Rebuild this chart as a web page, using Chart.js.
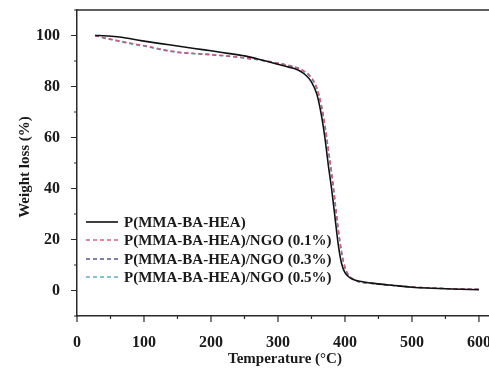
<!DOCTYPE html>
<html>
<head>
<meta charset="utf-8">
<script src="https://cdn.jsdelivr.net/npm/chart.js"></script>
<style>
  html, body { margin: 0; padding: 0; background: #fff; }
  #wrap { width: 489px; height: 369px; }
</style>
</head>
<body>
<div id="wrap"><canvas id="tga" width="489" height="369"></canvas></div>
<script>
// temperatures (°C) sampled along the curves
const temps = [27, 40, 60, 80, 100, 125, 150, 175, 200, 225, 250, 270, 290, 310, 330, 340, 350, 358, 365, 370, 375, 380, 385, 390, 395, 400, 405, 410, 420, 440, 460, 480, 500, 530, 560, 600];

// weight (%) per sample
const pure   = [100, 99.9, 99.5, 98.7, 97.8, 96.8, 95.9, 94.9, 94.0, 93.0, 92.0, 90.8, 89.4, 88.0, 86.5, 84.8, 81.8, 77.0, 68.5, 60.0, 49.5, 40.0, 29.0, 18.0, 10.5, 7.0, 5.5, 4.6, 3.7, 2.9, 2.3, 1.8, 1.3, 0.9, 0.6, 0.3];
const ngo01  = [100, 99.2, 98.1, 97.0, 96.1, 94.7, 93.6, 93.0, 92.6, 92.0, 91.3, 90.6, 89.7, 88.7, 87.3, 85.9, 83.5, 79.6, 72.6, 65.2, 56.0, 46.6, 35.6, 24.2, 15.2, 9.2, 6.3, 4.9, 3.6, 2.8, 2.3, 1.8, 1.4, 1.0, 0.7, 0.5];
const ngo03  = [100, 99.1, 98.0, 96.9, 96.0, 94.6, 93.5, 92.9, 92.5, 91.9, 91.2, 90.5, 89.6, 88.6, 87.2, 85.8, 83.4, 79.4, 72.3, 65.0, 55.7, 46.2, 35.3, 24.0, 15.0, 9.0, 6.2, 4.8, 3.5, 2.8, 2.3, 1.8, 1.4, 1.0, 0.7, 0.5];
const ngo05  = [100, 99.0, 97.8, 96.7, 95.8, 94.4, 93.3, 92.8, 92.4, 91.8, 91.1, 90.4, 89.5, 88.5, 87.1, 85.6, 83.1, 79.0, 71.8, 64.4, 55.2, 45.7, 34.8, 23.5, 14.7, 8.8, 6.0, 4.7, 3.4, 2.7, 2.2, 1.7, 1.3, 0.9, 0.6, 0.4];

const seriesNames = ['P(MMA-BA-HEA)', 'P(MMA-BA-HEA)/NGO (0.1%)', 'P(MMA-BA-HEA)/NGO (0.3%)', 'P(MMA-BA-HEA)/NGO (0.5%)'];
const xMajor = [0, 100, 200, 300, 400, 500, 600];
const xMinor = [50, 150, 250, 350, 450, 550];
const yMajor = [0, 20, 40, 60, 80, 100];
const yMinor = [-10, 10, 30, 50, 70, 90, 110];

const FONT = '"Liberation Serif", "Times New Roman", serif';
const AXIS = '#2a2a2a';

function pts(vals) {
    return temps.map((t, i) => ({ x: t, y: vals[i] }));
}

const styles = [
    { color: '#111111', dash: [], width: 1.6 },
    { color: '#e0607a', dash: [4, 3], width: 1.3 },
    { color: '#55559a', dash: [4, 3], width: 1.3 },
    { color: '#5fb0c4', dash: [4, 3], width: 1.3 }
];

const allSeries = [pure, ngo01, ngo03, ngo05];

// frame, minor ticks, axis titles and the inset legend
const decor = {
    id: 'decor',
    afterDraw(chart) {
        const ctx = chart.ctx;
        const a = chart.chartArea;
        const xs = chart.scales.x, ys = chart.scales.y;
        ctx.save();
        ctx.strokeStyle = AXIS;
        ctx.lineWidth = 1.5;
        // top border
        ctx.beginPath();
        ctx.moveTo(a.left, a.top);
        ctx.lineTo(a.right, a.top);
        ctx.stroke();
        // tick marks (outward)
        ctx.lineWidth = 1.2;
        ctx.beginPath();
        xMajor.forEach(v => { const p = xs.getPixelForValue(v); ctx.moveTo(p, a.bottom); ctx.lineTo(p, a.bottom + 6); });
        xMinor.forEach(v => { const p = xs.getPixelForValue(v); ctx.moveTo(p, a.bottom); ctx.lineTo(p, a.bottom + 3); });
        yMajor.forEach(v => { const p = ys.getPixelForValue(v); ctx.moveTo(a.left, p); ctx.lineTo(a.left - 6, p); });
        yMinor.forEach(v => { const p = ys.getPixelForValue(v); ctx.moveTo(a.left, p); ctx.lineTo(a.left - 3, p); });
        ctx.stroke();

        // axis titles
        ctx.fillStyle = '#1a1a1a';
        ctx.font = 'bold 15px ' + FONT;
        ctx.textAlign = 'center';
        ctx.textBaseline = 'middle';
        ctx.fillText('Temperature (\u00B0C)', 285, 359);
        ctx.save();
        ctx.translate(25, 167);
        ctx.rotate(-Math.PI / 2);
        ctx.fillText('Weight loss (%)', 0, 0);
        ctx.restore();

        // legend
        const rows = [222, 240, 259, 277];
        ctx.textAlign = 'left';
        seriesNames.forEach((name, i) => {
            const s = styles[i];
            ctx.strokeStyle = s.color;
            ctx.lineWidth = s.width;
            ctx.setLineDash(s.dash);
            ctx.beginPath();
            ctx.moveTo(86, rows[i]);
            ctx.lineTo(118, rows[i]);
            ctx.stroke();
            ctx.setLineDash([]);
            ctx.fillStyle = '#1a1a1a';
            ctx.fillText(name, 124, rows[i] + 1);
        });
        ctx.restore();
    }
};

new Chart(document.getElementById('tga'), {
    type: 'line',
    data: {
        datasets: allSeries.map((vals, i) => ({
            label: seriesNames[i],
            data: pts(vals),
            borderColor: styles[i].color,
            borderDash: styles[i].dash,
            borderWidth: styles[i].width,
            pointRadius: 0,
            fill: false,
            cubicInterpolationMode: 'monotone'
        }))
    },
    options: {
        responsive: false,
        animation: false,
        layout: { padding: { top: 10, right: 0, left: 0, bottom: 0 } },
        plugins: { legend: { display: false }, tooltip: { enabled: false } },
        scales: {
            x: {
                type: 'linear',
                min: 0,
                max: 615,
                grid: { display: false },
                border: { color: AXIS, width: 1.5 },
                afterBuildTicks: s => { s.ticks = xMajor.map(v => ({ value: v })); },
                afterFit: s => { s.height = 53; s.paddingLeft = 0; s.paddingRight = 0; },
                ticks: {
                    color: '#1a1a1a',
                    padding: 9,
                    maxRotation: 0,
                    font: { family: FONT, size: 16, weight: 'bold' }
                }
            },
            y: {
                min: -10,
                max: 110,
                grid: { display: false },
                border: { color: AXIS, width: 1.5 },
                afterBuildTicks: s => { s.ticks = yMajor.map(v => ({ value: v })); },
                afterFit: s => { s.width = 77; s.paddingTop = 0; s.paddingBottom = 0; },
                ticks: {
                    color: '#1a1a1a',
                    padding: 9,
                    font: { family: FONT, size: 16, weight: 'bold' }
                }
            }
        }
    },
    plugins: [decor]
});
</script>
</body>
</html>
